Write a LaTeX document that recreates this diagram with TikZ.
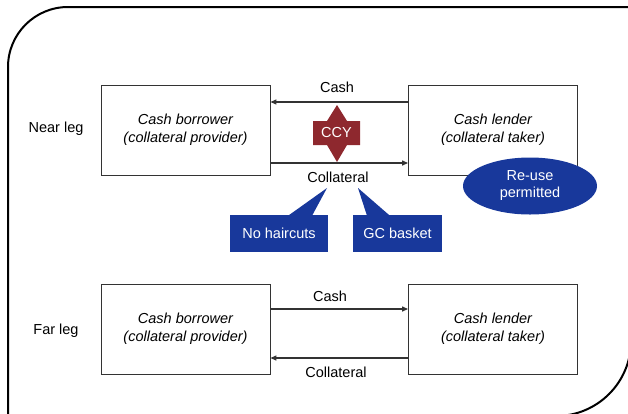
\documentclass[tikz,border=0pt]{standalone}
\usepackage{fontspec}
\setmainfont{Liberation Sans}
\usetikzlibrary{arrows.meta,shapes.geometric}
\definecolor{ccyred}{RGB}{142,40,46}
\definecolor{noteblue}{RGB}{24,56,155}
\newcommand{\diafont}{\fontsize{14.5}{18}\selectfont}

\begin{document}
\begin{tikzpicture}[x=1pt,y=-1pt,font=\diafont,
    party/.style={draw=black!80,line width=0.9pt,minimum width=169pt,minimum height=90pt,align=center,font=\diafont\itshape},
    flow/.style={draw=black!80,line width=1.3pt,-{Triangle[length=6pt,width=5pt]}},
    note/.style={fill=noteblue,text=white,inner sep=0pt,minimum height=37pt}]
				%defs
				\def\rad{60pt}
				\def\rbig{75pt}
				\useasboundingbox (0,0) rectangle (628,413);
				\coordinate (tipA) at (327,188);
				\coordinate (tipB) at (358,188);
				%frame
				\draw [line width=2pt] (8,416) -- (8,67) arc [start angle=180, end angle=90, radius=\rad]
					-- (631,7) -- (631,341) arc [start angle=0, end angle=-90, radius=\rbig] -- cycle;
				%boxes
				\node[party] (nearB) at (185.5,130) {Cash borrower\\(collateral provider)};
				\node[party] (nearL) at (493,130) {Cash lender\\(collateral taker)};
				\node[party] (farB) at (185.5,329) {Cash borrower\\(collateral provider)};
				\node[party] (farL) at (493,329) {Cash lender\\(collateral taker)};
				%lines
				\draw [flow] ([yshift=28pt]nearL.west) -- ([yshift=28pt]nearB.east);
				\draw [flow] ([yshift=-33pt]nearB.east) -- ([yshift=-33pt]nearL.west);
				\draw [flow] ([yshift=20pt]farB.east) -- ([yshift=20pt]farL.west);
				\draw [flow] ([yshift=-29pt]farL.west) -- ([yshift=-29pt]farB.east);
				%ccy star
				\fill [ccyred] (337,105) -- (347,121) -- (360,121) -- (360,145) -- (347,145) -- (337,162)
					-- (327,145) -- (313,145) -- (313,121) -- (327,121) -- cycle;
				\node[text=white] (ccy) at (336.5,133) {CCY};
				%notes
				\node[ellipse, fill=noteblue, text=white, minimum width=134pt, minimum height=57pt, inner sep=0pt,
					align=center, font=\fontsize{14.5}{17}\selectfont] (reuse) at (530,186) {Re-use\\permitted};
				\node[note, minimum width=98pt] (nohc) at (279,233.5) {No haircuts};
				\node[note, minimum width=89pt] (gc) at (397.5,233.5) {GC basket};
				\fill [noteblue] ([xshift=9pt,yshift=-1pt]nohc.north) -- (tipA) -- ([xshift=33pt,yshift=-1pt]nohc.north) -- cycle;
				\fill [noteblue] ([xshift=-30.5pt,yshift=-1pt]gc.north) -- (tipB) -- ([xshift=-7.5pt,yshift=-1pt]gc.north) -- cycle;
				%Labels
				\node (near) at (56,129) {Near leg};
				\node (far) at (56,331) {Far leg};
				\node (cash1) at (337,87) {Cash};
				\node (coll1) at (338,177) {Collateral};
				\node (cash2) at (330,296) {Cash};
				\node (coll2) at (336,372) {Collateral};
			\end{tikzpicture}
\end{document}
